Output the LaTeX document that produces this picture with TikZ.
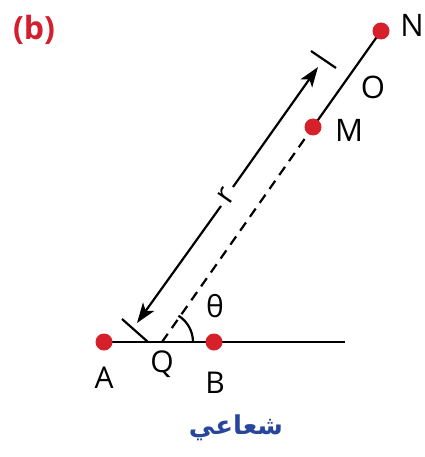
\documentclass[tikz,border=0pt]{standalone}
\usepackage{fontspec}
\setmainfont{Open Sans}
\newfontfamily\arabicfont[Script=Arabic]{DejaVu Sans}
\TeXXeTstate=1
\usetikzlibrary{arrows.meta,calc}
\definecolor{dotred}{RGB}{214,32,42}
\definecolor{labred}{RGB}{212,30,45}
\definecolor{arblue}{RGB}{40,70,155}
\tikzset{
  ln/.style={line width=2.2pt, black},
  reddot/.style={circle, fill=dotred, inner sep=0pt, minimum size=17pt},
  lab/.style={font=\fontsize{30}{30}\selectfont, inner sep=0pt},
  biglab/.style={font=\fontsize{31}{31}\selectfont, inner sep=0pt},
  tip/.style={-{Stealth[length=20pt,width=14pt,inset=5pt]}}
}
\begin{document}
\begin{tikzpicture}[x=1pt,y=-1pt]
\useasboundingbox (0,0) rectangle (424,457);
% key points
\coordinate (L) at (97,342);
\coordinate (E) at (345,342);
\coordinate (Q) at (162,342);
\coordinate (Mp) at (313,127);
\coordinate (Np) at (381,31);
\coordinate (Ap) at (104,342);
\coordinate (Bp) at (214,342);
% arrow points
\coordinate (P1) at (137,323);
\coordinate (P2) at (318,67);
\coordinate (g1) at (221,206);
\coordinate (g2) at (233,187);
\coordinate (T1a) at (122,319);
\coordinate (T1b) at (148,342);
\coordinate (T2a) at (311,51);
\coordinate (T2b) at (336,68);
% base line
\draw[ln] (L) -- (E);
% dashed and solid radial line
\draw[ln, dash pattern=on 10pt off 7pt] (Q) -- (Mp);
\draw[ln] (Mp) -- (Np);
% ticks
\draw[ln] (T1a) -- (T1b);
\draw[ln] (T2a) -- (T2b);
% double arrow with gap
\draw[ln, tip] (g1) -- (P1);
\draw[ln, tip] (g2) -- (P2);
\node[lab, rotate=55] (r) at (226,196) {r};
% angle arc
\draw[ln] ($(Q)+(31,0)$) arc[start angle=0, end angle=-58, radius=31];
% dots
\node[reddot] (A) at (Ap) {};
\node[reddot] (B) at (Bp) {};
\node[reddot] (M) at (Mp) {};
\node[reddot] (N) at (Np) {};
% labels
\node[lab] (lA) at (104,378) {A};
\node[lab] (lQ) at (162,364) {Q};
\node[lab] (lB) at (215,383) {B};
\node[lab] (lth) at (215,306) {θ};
\node[biglab] (lM) at (349,130) {M};
\node[biglab] (lN) at (412,25) {N};
\node[biglab] (lO) at (373,87) {O};
\node[font=\fontsize{32}{32}\selectfont\bfseries, text=labred, inner sep=0pt] (lb) at (34,30) {(b)};
\node[font=\arabicfont\bfseries\fontsize{26}{26}\selectfont, text=arblue, inner sep=0pt] (ar) at (236,428) {\beginR شعاعي\endR};
\end{tikzpicture}
\end{document}
